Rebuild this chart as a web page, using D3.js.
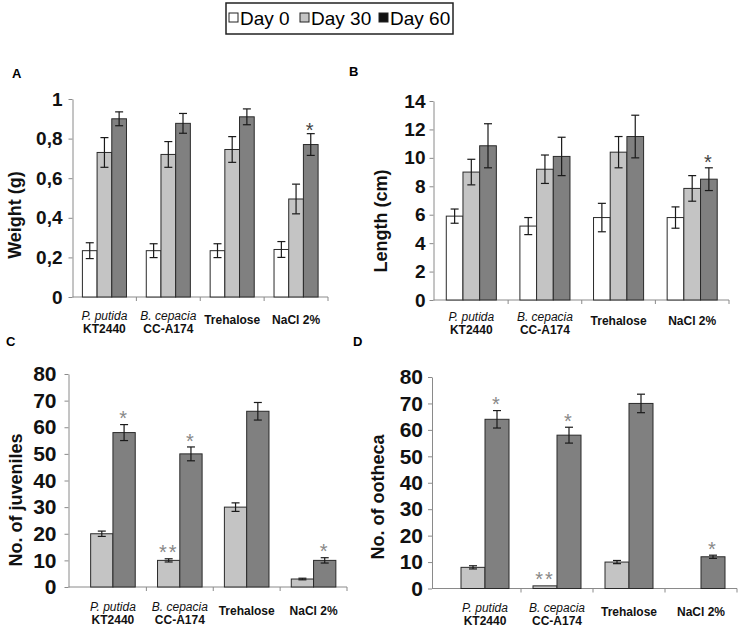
<!DOCTYPE html>
<html>
<head>
<meta charset="utf-8">
<script src="https://cdn.jsdelivr.net/npm/d3@7"></script>
<style>
body { margin: 0; background: #fff; }
svg { display: block; font-family: "Liberation Sans", Arial, sans-serif; }
</style>
</head>
<body>
<div id="chart"></div>
<script>
// categories and labels
var categories = ["P. putida KT2440", "B. cepacia CC-A174", "Trehalose", "NaCl 2%"];
var labelTop = ["P. putida", "B. cepacia", "Trehalose", "NaCl 2%"];
var labelBottom = ["KT2440", "CC-A174", "", ""];
var labelItalic = [true, true, false, false];
var days = ["Day 0", "Day 30", "Day 60"];

// A - weight (g)
var weightDay0 = [0.234, 0.234, 0.234, 0.24];
var weightDay0Err = [0.04, 0.035, 0.035, 0.04];
var weightDay30 = [0.73, 0.72, 0.745, 0.495];
var weightDay30Err = [0.075, 0.065, 0.065, 0.075];
var weightDay60 = [0.90, 0.877, 0.91, 0.77];
var weightDay60Err = [0.035, 0.05, 0.04, 0.055];
var weightTicks = [0, 0.2, 0.4, 0.6, 0.8, 1];

// B - length (cm)
var lengthDay0 = [5.9, 5.2, 5.8, 5.8];
var lengthDay0Err = [0.5, 0.6, 1.0, 0.75];
var lengthDay30 = [9.0, 9.2, 10.4, 7.85];
var lengthDay30Err = [0.9, 1.0, 1.1, 0.9];
var lengthDay60 = [10.85, 10.1, 11.5, 8.5];
var lengthDay60Err = [1.55, 1.35, 1.5, 0.8];
var lengthTicks = [0, 2, 4, 6, 8, 10, 12, 14];

// C - juveniles
var juvDay30 = [20, 10, 30, 3];
var juvDay30Err = [1, 0.6, 1.6, 0.3];
var juvDay60 = [58, 50, 66, 10];
var juvDay60Err = [3, 2.6, 3.3, 1];

// D - ootheca
var ootDay30 = [8, 1, 10, 0];
var ootDay30Err = [0.6, 0, 0.6, 0];
var ootDay60 = [64, 58, 70, 12];
var ootDay60Err = [3.3, 3, 3.5, 0.6];
var countTicks = [0, 10, 20, 30, 40, 50, 60, 70, 80];

// significance marks: [category index, series index, mark]
var starsA = [[3, 2, "*"]];
var starsB = [[3, 2, "*"]];
var starsC = [[0, 1, "*"], [1, 1, "*"], [1, 0, "**"], [3, 1, "*"]];
var starsD = [[0, 1, "*"], [1, 1, "*"], [1, 0, "**"], [3, 1, "*"]];

var fills = {"Day 0": "#ffffff", "Day 30": "#c4c4c4", "Day 60": "#808080"};
var legendFills = {"Day 0": "#ffffff", "Day 30": "#c4c4c4", "Day 60": "#111111"};

var svg = d3.select("#chart").append("svg")
    .attr("width", 751)
    .attr("height", 632);

// legend
var legend = svg.append("g");
legend.append("rect")
    .attr("x", 226).attr("y", 3).attr("width", 227).attr("height", 31)
    .style("fill", "#fff").style("stroke", "#222").style("stroke-width", 1.5);
var legendX = [229, 300, 379];
days.forEach(function(d, i) {
    legend.append("rect")
        .attr("x", legendX[i]).attr("y", 13).attr("width", 9).attr("height", 9)
        .style("fill", legendFills[d]).style("stroke", "#222").style("stroke-width", 1);
    legend.append("text")
        .attr("x", legendX[i] + 11).attr("y", 25)
        .style("font-size", "19px")
        .text(d);
});

function panel(p) {
    var g = svg.append("g");

    var x = d3.scaleBand().domain(categories).range(p.xRange)
        .paddingInner(p.pad).paddingOuter(p.pad / 2);
    var xs = d3.scaleBand().domain(p.series.map(function(s) { return s.day; }))
        .range([0, x.bandwidth()]);
    var y = d3.scaleLinear().domain([0, p.yMax]).range(p.yRange);

    // y axis
    var yAxis = g.append("g")
        .attr("transform", "translate(" + p.axisX + ",0)")
        .call(d3.axisLeft(y).tickValues(p.ticks).tickSize(4).tickSizeOuter(0)
            .tickPadding(p.tickPad).tickFormat(p.fmt));
    yAxis.select(".domain").style("stroke", "#8a8a8a");
    yAxis.selectAll(".tick line").style("stroke", "#8a8a8a");
    yAxis.selectAll(".tick text")
        .style("font-size", p.tickFont + "px").style("font-weight", "bold")
        .style("fill", "#111").attr("font-family", null);

    // x axis line and category boundary ticks
    var bottom = p.yRange[0];
    g.append("line")
        .attr("x1", p.axisX).attr("x2", p.xRange[1])
        .attr("y1", bottom).attr("y2", bottom)
        .style("stroke", "#8a8a8a");
    g.selectAll(".xt").data(d3.range(1, categories.length + 1)).enter().append("line")
        .attr("x1", function(i) { return p.xRange[0] + i * x.step(); })
        .attr("x2", function(i) { return p.xRange[0] + i * x.step(); })
        .attr("y1", bottom).attr("y2", bottom + 4)
        .style("stroke", "#8a8a8a");

    // bars
    p.series.forEach(function(s) {
        var rows = categories.map(function(c, i) {
            return {cat: c, v: s.values[i], e: s.errs[i]};
        }).filter(function(r) { return r.v > 0; });

        g.selectAll(null).data(rows).enter().append("rect")
            .attr("x", function(r) { return x(r.cat) + xs(s.day); })
            .attr("y", function(r) { return y(r.v); })
            .attr("width", xs.bandwidth())
            .attr("height", function(r) { return bottom - y(r.v); })
            .style("fill", fills[s.day])
            .style("stroke", "#2a2a2a")
            .style("stroke-width", 1);

        var eb = g.selectAll(null).data(rows.filter(function(r) { return r.e > 0; })).enter().append("g")
            .attr("transform", function(r) {
                return "translate(" + (x(r.cat) + xs(s.day) + xs.bandwidth() / 2) + ",0)";
            })
            .style("stroke", "#1a1a1a").style("stroke-width", 1.2);
        eb.append("line")
            .attr("y1", function(r) { return y(r.v + r.e); })
            .attr("y2", function(r) { return y(r.v - r.e); });
        eb.append("line").attr("x1", -4).attr("x2", 4)
            .attr("y1", function(r) { return y(r.v + r.e); })
            .attr("y2", function(r) { return y(r.v + r.e); });
        eb.append("line").attr("x1", -4).attr("x2", 4)
            .attr("y1", function(r) { return y(r.v - r.e); })
            .attr("y2", function(r) { return y(r.v - r.e); });
    });

    // significance stars
    g.selectAll(null).data(p.stars).enter().append("text")
        .attr("x", function(st) {
            return x(categories[st[0]]) + xs(p.series[st[1]].day) + xs.bandwidth() / 2;
        })
        .attr("y", function(st) {
            var s = p.series[st[1]];
            return y(s.values[st[0]] + s.errs[st[0]]) - p.starGap + p.starFont * 0.58;
        })
        .attr("text-anchor", "middle")
        .style("font-size", p.starFont + "px")
        .style("fill", p.starColor)
        .style("letter-spacing", "2px")
        .text(function(st) { return st[2]; });

    // category labels
    var cl = g.selectAll(null).data(categories).enter().append("text")
        .attr("text-anchor", "middle")
        .style("font-size", "12px")
        .style("fill", "#111");
    cl.each(function(c, i) {
        var t = d3.select(this);
        var cx = x(c) + x.bandwidth() / 2;
        if (labelBottom[i]) {
            t.append("tspan").attr("x", cx).attr("y", p.labelY)
                .style("font-style", labelItalic[i] ? "italic" : null)
                .text(labelTop[i]);
            t.append("tspan").attr("x", cx).attr("y", p.labelY + 13)
                .style("font-weight", "bold")
                .text(labelBottom[i]);
        } else {
            t.append("tspan").attr("x", cx).attr("y", p.labelY + 4)
                .style("font-weight", "bold")
                .text(labelTop[i]);
        }
    });

    // y title
    g.append("text")
        .attr("transform", "translate(" + p.titleX + "," + p.titleY + ") rotate(-90)")
        .attr("text-anchor", "middle")
        .style("font-size", "18px").style("font-weight", "bold")
        .style("fill", "#111")
        .text(p.title);

    // panel letter
    g.append("text")
        .attr("x", p.letterX).attr("y", p.letterY)
        .style("font-size", "13px").style("font-weight", "bold")
        .text(p.letter);
}

var commaFmt = function(d) { return String(d).replace(".", ","); };

panel({
    letter: "A", letterX: 12, letterY: 78,
    axisX: 72.5, xRange: [72.5, 328], pad: 0.31,
    yRange: [297, 99], yMax: 1, ticks: weightTicks, fmt: commaFmt,
    tickPad: 6, tickFont: 19,
    series: [
        {day: "Day 0", values: weightDay0, errs: weightDay0Err},
        {day: "Day 30", values: weightDay30, errs: weightDay30Err},
        {day: "Day 60", values: weightDay60, errs: weightDay60Err}
    ],
    stars: starsA, starGap: 8, starFont: 20, starColor: "#444",
    labelY: 320, title: "Weight (g)", titleX: 21, titleY: 215
});

panel({
    letter: "B", letterX: 349, letterY: 76,
    axisX: 433.5, xRange: [434.5, 729], pad: 0.32,
    yRange: [300, 101], yMax: 14, ticks: lengthTicks, fmt: d3.format("d"),
    tickPad: 4, tickFont: 19,
    series: [
        {day: "Day 0", values: lengthDay0, errs: lengthDay0Err},
        {day: "Day 30", values: lengthDay30, errs: lengthDay30Err},
        {day: "Day 60", values: lengthDay60, errs: lengthDay60Err}
    ],
    stars: starsB, starGap: 10, starFont: 20, starColor: "#444",
    labelY: 321, title: "Length (cm)", titleX: 387, titleY: 221
});

panel({
    letter: "C", letterX: 6, letterY: 346,
    axisX: 68.5, xRange: [79.5, 347], pad: 1 / 3,
    yRange: [587, 374], yMax: 80, ticks: countTicks, fmt: d3.format("d"),
    tickPad: 8, tickFont: 21,
    series: [
        {day: "Day 30", values: juvDay30, errs: juvDay30Err},
        {day: "Day 60", values: juvDay60, errs: juvDay60Err}
    ],
    stars: starsC, starGap: 11, starFont: 20, starColor: "#888",
    labelY: 611, title: "No. of juveniles", titleX: 22, titleY: 500
});

panel({
    letter: "D", letterX: 353, letterY: 346,
    axisX: 432, xRange: [449, 737], pad: 1 / 3,
    yRange: [588.5, 377], yMax: 80, ticks: countTicks, fmt: d3.format("d"),
    tickPad: 5, tickFont: 21,
    series: [
        {day: "Day 30", values: ootDay30, errs: ootDay30Err},
        {day: "Day 60", values: ootDay60, errs: ootDay60Err}
    ],
    stars: starsD, starGap: 11, starFont: 20, starColor: "#888",
    labelY: 612, title: "No. of ootheca", titleX: 384, titleY: 497
});
</script>
</body>
</html>
